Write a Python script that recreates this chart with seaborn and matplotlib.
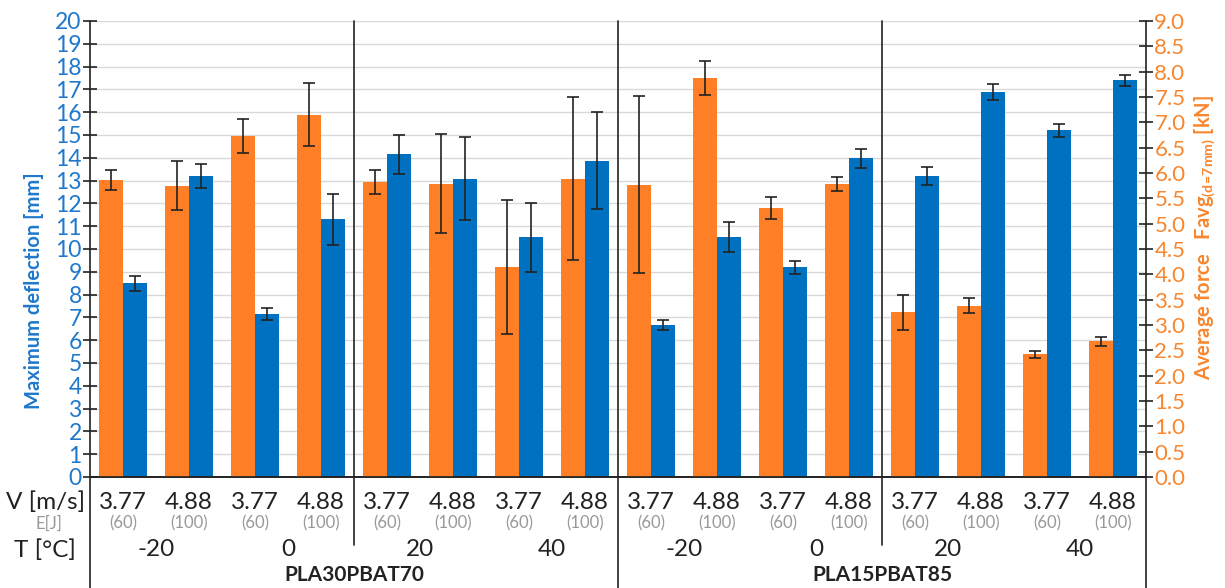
import numpy as np
import pandas as pd
import matplotlib
matplotlib.use('Agg')
import matplotlib.pyplot as plt
import matplotlib.transforms as mtransforms
import seaborn as sns

# values
speeds = ['3.77', '4.88'] * 8
energies = ['(60)', '(100)'] * 8
temps = ['-20', '0', '20', '40'] * 2
materials = ['PLA30PBAT70', 'PLA15PBAT85']

force = [5.86, 5.75, 6.73, 7.15, 5.82, 5.79, 4.15, 5.89,
         5.77, 7.88, 5.31, 5.79, 3.25, 3.38, 2.42, 2.68]
force_err = [0.19, 0.49, 0.33, 0.62, 0.24, 0.97, 1.32, 1.60,
             1.75, 0.34, 0.22, 0.14, 0.35, 0.15, 0.07, 0.09]
defl = [8.50, 13.21, 7.16, 11.31, 14.16, 13.09, 10.52, 13.88,
        6.66, 10.52, 9.19, 13.98, 13.21, 16.89, 15.21, 17.40]
defl_err = [0.33, 0.53, 0.26, 1.12, 0.86, 1.82, 1.51, 2.13,
            0.22, 0.65, 0.28, 0.42, 0.40, 0.34, 0.29, 0.25]

ORANGE = '#FF7F27'
BLUE = '#0070C0'
ORANGE_TXT = '#F7862E'
BLUE_TXT = '#1F78CC'
DARK = '#222222'

sns.set_style('white')
plt.rcParams['font.family'] = ['Lato', 'DejaVu Sans']
plt.rcParams['mathtext.fontset'] = 'custom'
plt.rcParams['mathtext.rm'] = 'Lato'
plt.rcParams['mathtext.bf'] = 'Lato:bold'

idx = list(range(len(force)))
df_defl = pd.DataFrame({'idx': idx, 'series': 'defl', 'value': defl})
df_force = pd.DataFrame({'idx': idx, 'series': 'force', 'value': force})
hue_order = ['force', 'defl']
palette = {'force': ORANGE, 'defl': BLUE}

fig = plt.figure(figsize=(12.25, 5.88), dpi=100)
ax = fig.add_axes([0.0735, 0.1888, 0.862, 0.7755])
ax2 = ax.twinx()

# same hue order on both axes so the bars dodge side by side
sns.barplot(data=df_defl, x='idx', y='value', hue='series', hue_order=hue_order,
            palette=palette, width=0.74, dodge=True, saturation=1,
            errorbar=None, legend=False, linewidth=0, ax=ax, zorder=2)
sns.barplot(data=df_force, x='idx', y='value', hue='series', hue_order=hue_order,
            palette=palette, width=0.74, dodge=True, saturation=1,
            errorbar=None, legend=False, linewidth=0, ax=ax2, zorder=2)

# error bars at the bar centres
xb = sorted(p.get_x() + p.get_width() / 2 for p in ax.patches)
ax.errorbar(xb, defl, yerr=defl_err, fmt='none', ecolor=DARK,
            elinewidth=1.2, capsize=4, capthick=1.2, zorder=3)
xo = sorted(p.get_x() + p.get_width() / 2 for p in ax2.patches)
ax2.errorbar(xo, force, yerr=force_err, fmt='none', ecolor=DARK,
             elinewidth=1.2, capsize=4, capthick=1.2, zorder=3)

ax.set_xlim(-0.5, len(idx) - 0.5)
ax.set_ylim(0, 20)
ax2.set_ylim(0, 9)
ax.set_yticks(np.arange(0, 21, 1))
ax2.set_yticks(np.arange(0, 9.01, 0.5))
ax2.set_yticklabels([f'{v:.1f}' for v in np.arange(0, 9.01, 0.5)])

ax.yaxis.grid(True, color='#D9D9D9', linewidth=1.0, zorder=0)
ax.set_axisbelow(True)
ax.set_xticks([])
ax.set_xlabel('')
ax.set_ylabel('')
ax2.set_ylabel('')

for a in (ax, ax2):
    for s in a.spines.values():
        s.set_visible(False)
    a.spines['bottom'].set_visible(True)
    a.spines['bottom'].set_color(DARK)
    a.spines['bottom'].set_linewidth(1.2)

ax.tick_params(axis='y', direction='inout', length=10, width=1.2, color=DARK,
               labelcolor=BLUE_TXT, labelsize=16.5, pad=1)
ax2.tick_params(axis='y', direction='inout', length=10, width=1.2, color=DARK,
                labelcolor=ORANGE_TXT, labelsize=16, pad=1)

fig.text(0.028, 0.505, 'Maximum deflection [mm]', rotation=90, ha='center',
         va='center', color=BLUE_TXT, fontsize=14.5, fontweight='bold')
fig.text(0.983, 0.597, r'Average force   Favg$_{\mathbf{(d\!=\!7mm)}}$ [kN]',
         rotation=90, ha='center', va='center', color=ORANGE_TXT,
         fontsize=14.5, fontweight='bold')

trans = mtransforms.blended_transform_factory(ax.transData, ax.transAxes)

# axis lines and separators running down through the label rows
for xv, y0 in [(-0.5, -0.245), (15.5, -0.245), (7.5, -0.245),
               (3.5, -0.15), (11.5, -0.15)]:
    ax.plot([xv, xv], [y0, 1], transform=trans, color=DARK, linewidth=1.2,
            clip_on=False, zorder=4)

for i in idx:
    ax.text(i, -0.055, speeds[i], transform=trans, ha='center', va='center',
            fontsize=17.5, color=DARK)
    ax.text(i, -0.102, energies[i], transform=trans, ha='center', va='center',
            fontsize=12, color='#999999')
for j, t in enumerate(temps):
    ax.text(2 * j + 0.5, -0.16, t, transform=trans, ha='center', va='center',
            fontsize=17.5, color=DARK)
for k, m in enumerate(materials):
    ax.text(8 * k + 3.5, -0.215, m, transform=trans, ha='center', va='center',
            fontsize=15, fontweight='bold', color=DARK)

ax.text(-0.005, -0.055, 'V [m/s]', transform=ax.transAxes, ha='right',
        va='center', fontsize=17.5, color=DARK)
ax.text(-0.039, -0.102, 'E[J]', transform=ax.transAxes, ha='center',
        va='center', fontsize=12, color='#999999')
ax.text(-0.013, -0.16, 'T [°C]', transform=ax.transAxes, ha='right',
        va='center', fontsize=17.5, color=DARK)

fig.savefig('out.png', dpi=100)
